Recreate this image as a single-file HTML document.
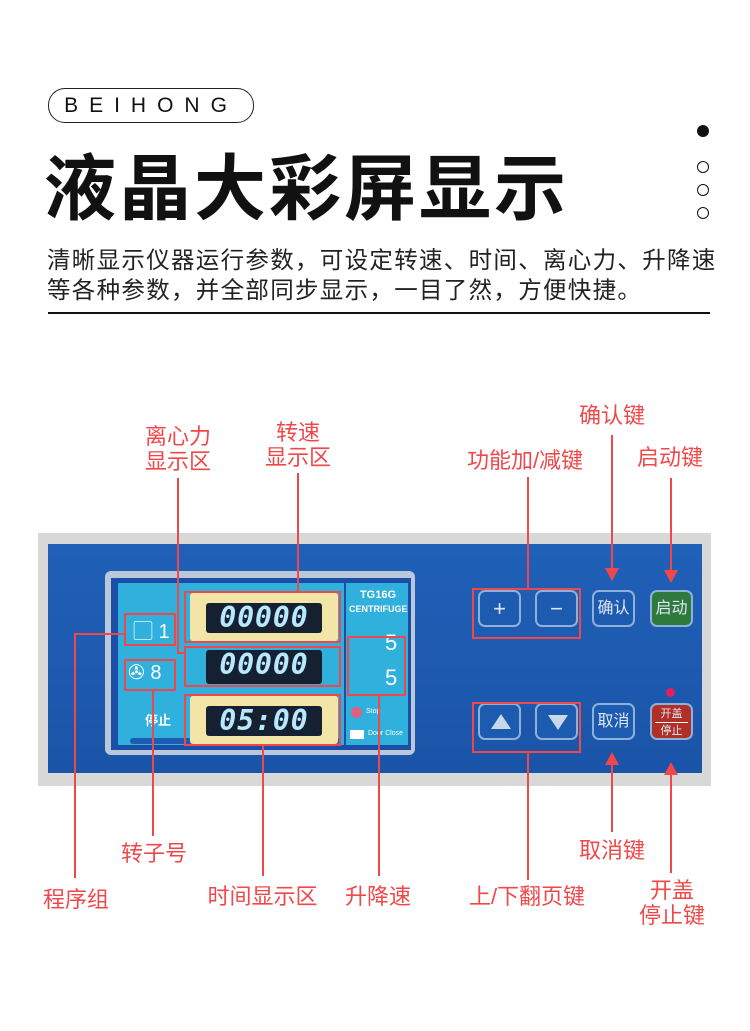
<!DOCTYPE html>
<html><head><meta charset="utf-8"><style>
body{margin:0;width:750px;height:1031px;background:#fff;position:relative;overflow:hidden;font-family:"Liberation Sans","Noto Sans CJK SC",sans-serif}
.a{position:absolute}
.lbl{position:absolute;color:#f0484a;font-size:22px;line-height:25px;text-align:center;white-space:nowrap}
.v{position:absolute;width:2px;background:#f0484a}
.h{position:absolute;height:2px;background:#f0484a}
.box{position:absolute;border:2px solid #f0484a;box-sizing:border-box}
.btn{position:absolute;width:43px;height:37px;border:2px solid #8fb0d8;border-radius:7px;box-sizing:border-box;background:#1d5bb0;color:#dfe8f5;font-size:16px;text-align:center;line-height:33px}
.dig{position:absolute;left:16px;right:16px;top:10px;bottom:8px;background:#152030;border-radius:3px;color:#b8e8ff;font-family:"DejaVu Sans Mono",monospace;font-style:italic;font-weight:bold;font-size:28px;text-align:center;line-height:30px;letter-spacing:1px}
.disp{position:absolute;left:190px;width:148px;background:#f3e4a8;border-radius:3px}
.tri{position:absolute;width:0;height:0}
</style></head><body>
<div class="a" style="left:48px;top:88px;width:204px;height:33px;border:1.5px solid #222;border-radius:17px;font-size:21px;letter-spacing:11px;text-align:center;line-height:33px;color:#111">BEIHONG</div>
<div class="a" style="left:44px;top:140px;font-size:72px;font-weight:bold;line-height:86px;color:#111;letter-spacing:3px;font-family:'Noto Sans CJK SC',sans-serif">液晶大彩屏显示</div>
<div class="a" style="left:697px;top:125px;width:12px;height:12px;border-radius:50%;background:#111"></div>
<div class="a" style="left:697px;top:161px;width:10px;height:10px;border-radius:50%;border:1.3px solid #111"></div>
<div class="a" style="left:697px;top:184px;width:10px;height:10px;border-radius:50%;border:1.3px solid #111"></div>
<div class="a" style="left:697px;top:207px;width:10px;height:10px;border-radius:50%;border:1.3px solid #111"></div>
<div class="a" style="left:47px;top:245px;font-size:23.5px;letter-spacing:1.3px;line-height:30px;color:#222;white-space:nowrap">清晰显示仪器运行参数，可设定转速、时间、离心力、升降速<br>等各种参数，并全部同步显示，一目了然，方便快捷。</div>
<div class="a" style="left:48px;top:312px;width:662px;height:2px;background:#111"></div>

<!-- panel -->
<div class="a" style="left:38px;top:533px;width:673px;height:253px;background:#d8d8d6"></div>
<div class="a" style="left:48px;top:544px;width:654px;height:229px;background:linear-gradient(180deg,#2160b8,#1a54a8)"></div>
<div class="a" style="left:105px;top:571px;width:310px;height:184px;background:#b8c8d8;border-radius:6px"></div>
<div class="a" style="left:111px;top:578px;width:300px;height:172px;background:#1c4ea8"></div>
<div class="a" style="left:118px;top:583px;width:226px;height:162px;background:#30b0dc"></div>
<div class="a" style="left:346px;top:583px;width:62px;height:162px;background:#30b0dc"></div>
<div class="a" style="left:130px;top:738px;width:210px;height:6px;background:#1d5cb0;border-radius:3px"></div>
<div class="a" style="left:349px;top:588px;color:#fff;font-size:11px;font-weight:bold;line-height:14px;text-align:center;width:58px">TG16G<br><span style="font-size:9px">CENTRIFUGE</span></div>
<div class="a" style="left:385px;top:630px;color:#fff;font-size:22px">5</div>
<div class="a" style="left:385px;top:665px;color:#fff;font-size:22px">5</div>
<div class="a" style="left:351px;top:707px;width:11px;height:11px;border-radius:50%;background:#e06080"></div>
<div class="a" style="left:366px;top:708px;color:#fff;font-size:7px">Stop</div>
<div class="a" style="left:350px;top:730px;width:14px;height:9px;background:#fff"></div>
<div class="a" style="left:368px;top:730px;color:#fff;font-size:7px">Door Close</div>
<div class="a" style="left:133px;top:615px;color:#fff;font-size:20px">▢ 1</div>
<div class="a" style="left:128px;top:660px;color:#fff;font-size:20px">✇ 8</div>
<div class="a" style="left:145px;top:710px;color:#fff;font-size:13px;font-weight:bold">停止</div>
<div class="disp" style="top:593px;height:48px"><div class="dig">00000</div></div>
<div class="disp" style="top:648px;height:38px;background:#30b0dc"><div class="dig" style="top:2px;bottom:2px">00000</div></div>
<div class="disp" style="top:696px;height:48px"><div class="dig">05:00</div></div>

<div class="btn" style="left:478px;top:590px;font-size:22px">+</div>
<div class="btn" style="left:535px;top:590px;font-size:22px">−</div>
<div class="btn" style="left:592px;top:590px">确认</div>
<div class="btn" style="left:650px;top:590px;background:#2e7a3c">启动</div>
<div class="btn" style="left:478px;top:703px"><div class="tri" style="left:11px;top:9px;border-left:10px solid transparent;border-right:10px solid transparent;border-bottom:15px solid #c8d8ea"></div></div>
<div class="btn" style="left:535px;top:703px"><div class="tri" style="left:11px;top:10px;border-left:10px solid transparent;border-right:10px solid transparent;border-top:15px solid #c8d8ea"></div></div>
<div class="btn" style="left:592px;top:703px">取消</div>
<div class="btn" style="left:650px;top:703px;background:#b03028;font-size:11px;line-height:14px;padding-top:2px">开盖<div style="height:1px;background:#fff;margin:1px 3px"></div>停止</div>
<div class="a" style="left:666px;top:688px;width:9px;height:9px;border-radius:50%;background:#e02060"></div>

<!-- red boxes -->
<div class="box" style="left:124px;top:613px;width:52px;height:33px"></div>
<div class="box" style="left:124px;top:659px;width:52px;height:32px"></div>
<div class="box" style="left:184px;top:591px;width:157px;height:52px"></div>
<div class="box" style="left:184px;top:646px;width:157px;height:41px"></div>
<div class="box" style="left:184px;top:694px;width:157px;height:52px"></div>
<div class="box" style="left:347px;top:636px;width:59px;height:60px"></div>
<div class="box" style="left:472px;top:588px;width:109px;height:51px"></div>
<div class="box" style="left:472px;top:702px;width:109px;height:51px"></div>

<!-- lines -->
<div class="v" style="left:177px;top:478px;height:176px"></div><div class="h" style="left:177px;top:652px;width:8px"></div>
<div class="v" style="left:297px;top:473px;height:119px"></div>
<div class="v" style="left:74px;top:633px;height:245px"></div><div class="h" style="left:74px;top:633px;width:51px"></div>
<div class="v" style="left:152px;top:690px;height:146px"></div>
<div class="v" style="left:262px;top:745px;height:131px"></div>
<div class="v" style="left:378px;top:695px;height:181px"></div>
<div class="v" style="left:527px;top:477px;height:112px"></div>
<div class="v" style="left:527px;top:752px;height:128px"></div>
<div class="v" style="left:611px;top:435px;height:138px"></div><div class="tri" style="left:605px;top:568px;border-left:7px solid transparent;border-right:7px solid transparent;border-top:13px solid #f0484a"></div>
<div class="v" style="left:670px;top:478px;height:97px"></div><div class="tri" style="left:664px;top:570px;border-left:7px solid transparent;border-right:7px solid transparent;border-top:13px solid #f0484a"></div>
<div class="v" style="left:611px;top:760px;height:72px"></div><div class="tri" style="left:605px;top:752px;border-left:7px solid transparent;border-right:7px solid transparent;border-bottom:13px solid #f0484a"></div>
<div class="v" style="left:670px;top:770px;height:103px"></div><div class="tri" style="left:664px;top:762px;border-left:7px solid transparent;border-right:7px solid transparent;border-bottom:13px solid #f0484a"></div>

<!-- labels -->
<div class="lbl" style="left:138px;top:424px;width:80px">离心力<br>显示区</div>
<div class="lbl" style="left:258px;top:420px;width:80px">转速<br>显示区</div>
<div class="lbl" style="left:572px;top:403px;width:80px">确认键</div>
<div class="lbl" style="left:458px;top:448px;width:134px">功能加/减键</div>
<div class="lbl" style="left:630px;top:445px;width:80px">启动键</div>
<div class="lbl" style="left:114px;top:841px;width:80px">转子号</div>
<div class="lbl" style="left:572px;top:838px;width:80px">取消键</div>
<div class="lbl" style="left:36px;top:887px;width:80px">程序组</div>
<div class="lbl" style="left:198px;top:884px;width:129px">时间显示区</div>
<div class="lbl" style="left:338px;top:884px;width:80px">升降速</div>
<div class="lbl" style="left:458px;top:884px;width:138px">上/下翻页键</div>
<div class="lbl" style="left:632px;top:878px;width:80px">开盖<br>停止键</div>
</body></html>
